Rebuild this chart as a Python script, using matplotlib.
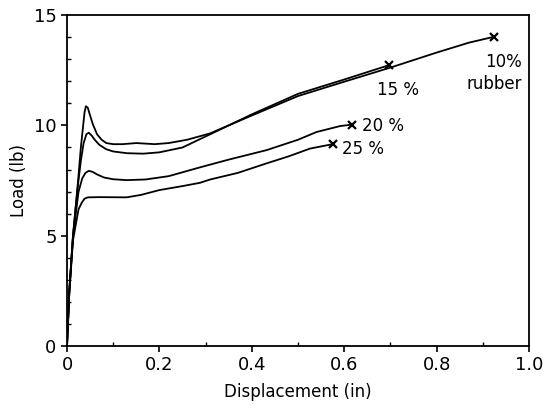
import matplotlib
matplotlib.use("Agg")
import matplotlib.pyplot as plt
from matplotlib.ticker import MultipleLocator

# load-displacement curves
x10 = [0, 0.005, 0.013, 0.022, 0.03, 0.035, 0.038, 0.041, 0.045, 0.05, 0.056, 0.065,
       0.075, 0.085, 0.1, 0.12, 0.15, 0.19, 0.22, 0.26, 0.31, 0.4, 0.5, 0.6, 0.7,
       0.75, 0.8, 0.87, 0.925]
y10 = [0, 2.5, 5.0, 7.0, 9.0, 10.0, 10.6, 10.87, 10.8, 10.45, 10.05, 9.6,
       9.35, 9.2, 9.15, 9.15, 9.2, 9.15, 9.2, 9.35, 9.64, 10.45, 11.33, 11.98, 12.62,
       12.96, 13.3, 13.75, 14.02]

x15 = [0, 0.005, 0.013, 0.022, 0.03, 0.036, 0.042, 0.047, 0.053, 0.06, 0.07, 0.085,
       0.1, 0.13, 0.165, 0.2, 0.25, 0.31, 0.4, 0.5, 0.6, 0.697]
y15 = [0, 2.5, 5.0, 7.0, 8.4, 9.2, 9.6, 9.67, 9.55, 9.35, 9.12, 8.92,
       8.82, 8.74, 8.72, 8.78, 9.0, 9.6, 10.5, 11.43, 12.08, 12.73]

x20 = [0, 0.005, 0.013, 0.025, 0.033, 0.04, 0.047, 0.055, 0.065, 0.08, 0.1, 0.129,
       0.17, 0.22, 0.288, 0.35, 0.432, 0.5, 0.54, 0.591, 0.618]
y20 = [0, 2.5, 5.0, 7.0, 7.6, 7.85, 7.94, 7.9, 7.78, 7.64, 7.56, 7.52,
       7.55, 7.7, 8.1, 8.45, 8.88, 9.35, 9.7, 9.97, 10.04]

x25 = [0, 0.005, 0.013, 0.025, 0.032, 0.038, 0.045, 0.07, 0.129, 0.16, 0.2, 0.25,
       0.288, 0.31, 0.37, 0.432, 0.48, 0.526, 0.575]
y25 = [0, 2.4, 4.8, 6.2, 6.5, 6.68, 6.74, 6.75, 6.74, 6.85, 7.07, 7.25,
       7.4, 7.55, 7.85, 8.28, 8.6, 8.95, 9.15]

curves = [(x10, y10), (x15, y15), (x20, y20), (x25, y25)]

plt.rcParams['font.family'] = 'DejaVu Sans'
fig = plt.figure(figsize=(5.51, 4.12), dpi=100)
ax = fig.add_axes([0.1216, 0.160, 0.8384, 0.8034])

for xs, ys in curves:
    ax.plot(xs, ys, color='black', lw=1.3)
    ax.plot(xs[-1], ys[-1], marker='x', color='black', ms=6, mew=1.6)

ax.text(0.985, 12.87, '10%', ha='right', va='center', fontsize=12)
ax.text(0.985, 11.87, 'rubber', ha='right', va='center', fontsize=12)
ax.text(0.672, 11.6, '15 %', ha='left', va='center', fontsize=12)
ax.text(0.638, 9.97, '20 %', ha='left', va='center', fontsize=12)
ax.text(0.595, 8.93, '25 %', ha='left', va='center', fontsize=12)

ax.set_xlim(0, 1.0)
ax.set_ylim(0, 15)
ax.xaxis.set_minor_locator(MultipleLocator(0.1))
ax.yaxis.set_major_locator(MultipleLocator(5))
ax.yaxis.set_minor_locator(MultipleLocator(1))
ax.set_xticks([0, 0.2, 0.4, 0.6, 0.8, 1.0])
ax.set_xticklabels(['0', '0.2', '0.4', '0.6', '0.8', '1.0'])
ax.tick_params(which='major', direction='out', length=4, width=1.2, labelsize=13)
ax.tick_params(which='minor', direction='in', length=3, width=1)
for s in ax.spines.values():
    s.set_linewidth(1.3)

ax.set_xlabel('Displacement (in)', fontsize=12, labelpad=6)
ax.set_ylabel('Load (lb)', fontsize=12, labelpad=4)

fig.savefig('out.png', dpi=100)
